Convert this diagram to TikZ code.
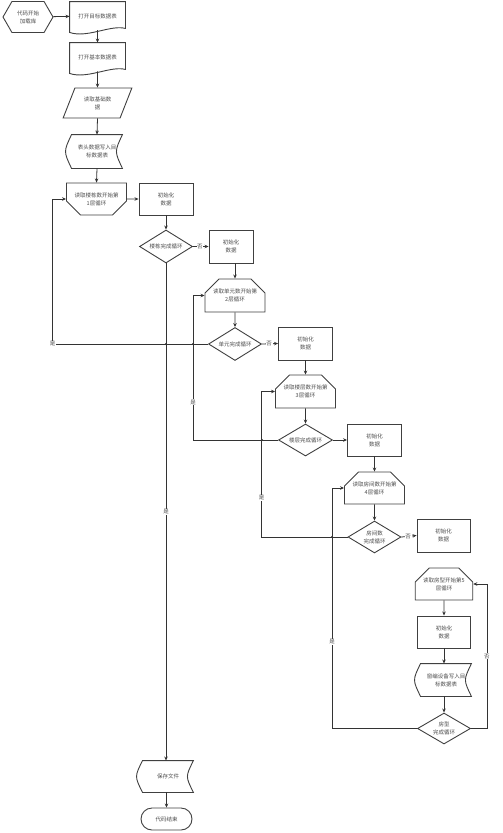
\documentclass[tikz,border=0pt]{standalone}
\usepackage{fontspec}
\setmainfont{Noto Sans CJK SC}
\usepackage{tikz}
\usetikzlibrary{arrows.meta}
\usetikzlibrary{positioning,shapes.geometric,shapes.misc,shapes.symbols}
\tikzset{
    box/.style={
        draw=black!75,
        line width=0.9pt,
        fill=white,
        inner sep=1pt,
        align=center,
        text=black!70,
        font=\fontsize{5.5}{8}\selectfont
    },
    proc/.style={box, rectangle, minimum width=54pt, minimum height=32pt},
    free/.style={box, draw=none, fill=none, rectangle},
    outline/.style={draw=black!75, line width=0.9pt},
    loopdown/.style={box, chamfered rectangle,
        chamfered rectangle corners={south west,south east},
        chamfered rectangle xsep=7pt, chamfered rectangle ysep=7pt,
        minimum width=54pt, minimum height=32pt},
    loopup/.style={box, chamfered rectangle,
        chamfered rectangle corners={north west,north east},
        chamfered rectangle xsep=7pt, chamfered rectangle ysep=7pt,
        minimum width=54pt, minimum height=33pt},
    decide/.style={box, diamond, aspect=1.6, inner sep=0pt,
        minimum width=53pt, minimum height=33pt},
    line/.style={draw=black!80, line width=0.8pt},
    lbl/.style={fill=white, inner sep=0.6pt, text=black!70,
        font=\fontsize{5.5}{6}\selectfont}
}
% document and stored data outlines
\newcommand{\docpath}[1]{%
  \draw[outline] (#1.north west) -- (#1.north east) -- ([yshift=2pt]#1.south east)
    .. controls ([xshift=-15pt,yshift=6pt]#1.south east) and ([xshift=18pt,yshift=-8pt]#1.south west) .. ([yshift=-2pt]#1.south west) -- cycle;}
\newcommand{\storedpath}[1]{%
  \draw[outline] (#1.north west) -- (#1.north east)
    .. controls ([xshift=-8pt]#1.east) .. (#1.south east) -- (#1.south west)
    .. controls ([xshift=-8pt]#1.west) .. (#1.north west) -- cycle;}

\begin{document}
\begin{tikzpicture}[
    x=1pt, y=-1pt,
    > = {Stealth[length=4pt, width=3.5pt]}
]
\useasboundingbox (0,0) rectangle (503,833);

% start and opening the tables
\node[box, signal, signal to=west and east, signal pointer angle=120,
      minimum width=50pt, minimum height=31pt] (start) at (28,17) {代码开始\\加载库};
\node[free, minimum width=55pt, minimum height=28pt] (open1) at (97.5,16) {打开目标数据表};
\docpath{open1}
\node[free, minimum width=55pt, minimum height=28pt] (open2) at (97.5,57) {打开基本数据表};
\docpath{open2}
\node[box, trapezium, trapezium left angle=63, trapezium right angle=117,
      trapezium stretches=true, minimum width=69pt, minimum height=30pt] (readbase) at (97.5,103) {读取基础数\\据};
\node[free, minimum width=50pt, minimum height=33pt] (header) at (97,151.5) {表头数据写入目\\标数据表};
\storedpath{header}

% loop 1
\node[loopdown] (loop1) at (96.5,199) {读取楼栋数开始第\\1层循环};
\node[proc] (init1) at (166,199) {初始化\\数据};
\node[decide] (dec1) at (166,246.5) {楼栋完成循环};

% loop 2
\node[proc, minimum width=44pt, minimum height=33pt] (init2) at (231,246.5) {初始化\\数据};
\node[loopup, minimum width=50pt] (loop2) at (235,295.5) {读取单元数开始第\\2层循环};
\node[decide] (dec2) at (235,344) {单元完成循环};

% loop 3
\node[proc, minimum height=33pt] (init3) at (305.5,343.5) {初始化\\数据};
\node[loopup] (loop3) at (305.5,391.5) {读取楼层数开始第\\3层循环};
\node[decide, minimum width=54pt, minimum height=32pt] (dec3) at (305.5,440) {楼层完成循环};

% loop 4
\node[proc] (init4) at (374.5,440) {初始化\\数据};
\node[loopup, minimum height=32pt] (loop4) at (374.5,488) {读取房间数开始第\\4层循环};
\node[decide, minimum height=32pt] (dec4) at (374.5,537) {房间数\\完成循环};

% loop 5
\node[proc, minimum width=53pt, minimum height=33pt] (init5) at (443.5,535.5) {初始化\\数据};
\node[loopup, minimum width=53pt, minimum height=32pt] (loop5) at (444,584) {读取房型开始第5\\层循环};
\node[proc, minimum width=53pt] (init6) at (444,632) {初始化\\数据};
\node[free, minimum width=50pt, minimum height=32pt] (write) at (446,680) {窗编设备写入目\\标数据表};
\storedpath{write}
\node[decide, minimum height=31pt] (dec5) at (444,728.5) {房型\\完成循环};

% end
\node[free, minimum width=50pt, minimum height=31pt] (save) at (168,776.5) {保存文件};
\storedpath{save}
\node[box, rounded rectangle, minimum width=53pt, minimum height=22pt] (stop) at (166.5,819) {代码结束};

% straight connectors
\draw[line,->] (start) -- (open1);
\draw[line,->] (open1.south) -- (open2.north);
\draw[line,->] (open2.south) -- (readbase.north);
\draw[line,->] (readbase.south) -- (header.north);
\draw[line,->] (header.south) -- (loop1.north);
\draw[line,->] (loop1) -- (init1);
\draw[line,->] (init1) -- (dec1);
\draw[line,->] (dec1.east) -- node[lbl, pos=0.45] {否} (init2.west);
\draw[line,->] (loop2.north |- init2.south) -- (loop2.north);
\draw[line,->] (loop2) -- (dec2);
\draw[line,->] (dec2.east) -- node[lbl, pos=0.45] {否} (init3.west);
\draw[line,->] (init3) -- (loop3);
\draw[line,->] (loop3) -- (dec3);
\draw[line,->] (dec3.east) -- (init4.west);
\draw[line,->] (init4) -- (loop4);
\draw[line,->] (loop4) -- (dec4);
\draw[line,->] (dec4.east) -- node[lbl, pos=0.45] {否} (init5.west);
\draw[line,->] (loop5) -- (init6);
\draw[line,->] (init6.south) -- (write.north -| init6.south);
\draw[line,->] (write.south -| dec5.north) -- (dec5.north);
\draw[line,->] (dec1.south) -- node[lbl] {是} (save.north -| dec1.south);
\draw[line,->] (save.south -| stop.north) -- (stop.north);

% loop backs
\draw[line,->] (dec2.west) -- ++(-155.5,0) node[lbl, pos=1] {是} |- (loop1.west);
\draw[line,->] (dec3.west) -- ++(-85,0) |- node[lbl, pos=0.13] {是} (loop2.west);
\draw[line,->] (dec4.west) -- ++(-86,0) |- node[lbl, pos=0.135] {是} (loop3.west);
\draw[line,->] (dec5.west) -- ++(-85,0) |- node[lbl, pos=0.18] {是} (loop4.west);
\draw[line,->] (dec5.east) -- ++(16,0) |- node[lbl, pos=0.25] {否} (loop5.east);

% crossings
\foreach \p in {(166,344), (193,344), (262,440), (332,537)}
  \fill[black!80] \p circle (1.2pt);
\end{tikzpicture}
\end{document}
